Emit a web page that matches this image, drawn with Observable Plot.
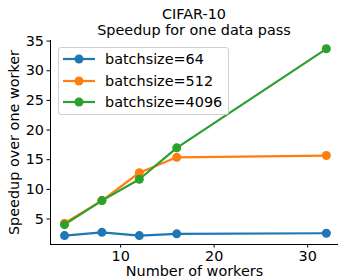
<!DOCTYPE html>
<html>
<head>
<meta charset="utf-8">
<script src="https://cdn.jsdelivr.net/npm/d3@7"></script>
<script src="https://cdn.jsdelivr.net/npm/@observablehq/plot@0.6"></script>
<style>
  body { margin: 0; background: #fff; font-family: "DejaVu Sans", sans-serif; }
  #wrap { position: relative; width: 338px; height: 280px; overflow: hidden; }
  #title { height: 38px; box-sizing: border-box; padding-top: 6px; padding-left: 50px;
           text-align: center; font-size: 14.4px; line-height: 16px; color: #000; }
  #legend { position: absolute; left: 58px; top: 47px; width: 171px; height: 68px;
            box-sizing: border-box; border: 1px solid #d0d0d0; border-radius: 3px;
            background: rgba(255,255,255,0.8); }
  .row { position: absolute; left: 0; height: 20px; font-size: 14.4px; line-height: 20px; color: #000; }
  .row svg { position: absolute; left: 3px; top: 0; }
  .row span { position: absolute; left: 46px; top: 0; white-space: nowrap; }
</style>
</head>
<body>
<div id="wrap">
  <div id="title">CIFAR-10<br>Speedup for one data pass</div>
  <div id="chart"></div>
  <div id="legend"></div>
</div>
<script>
const workers = [4, 8, 12, 16, 32];
const seriesNames = ["batchsize=64", "batchsize=512", "batchsize=4096"];
const speedup64 = [2.2, 2.75, 2.2, 2.5, 2.6];
const speedup512 = [4.3, 8.1, 12.8, 15.4, 15.7];
const speedup4096 = [4.05, 8.1, 11.7, 17.0, 33.7];
const colors = ["#1f77b4", "#ff7f0e", "#2ca02c"];
const xTicks = [10, 20, 30];
const yTicks = [5, 10, 15, 20, 25, 30, 35];
const xDomain = [2.5, 33.3];
const yDomain = [0.7, 35.1];

const allSeries = [speedup64, speedup512, speedup4096];
const data = [];
allSeries.forEach((vals, si) => {
  vals.forEach((v, i) => data.push({series: seriesNames[si], x: workers[i], y: v}));
});

const font = "DejaVu Sans";
const fs = 14.4;
const chart = Plot.plot({
  width: 338,
  height: 242,
  marginLeft: 50,
  marginRight: 0,
  marginTop: 2,
  marginBottom: 36,
  style: {fontFamily: font, fontSize: fs + "px", color: "#000", background: "#fff", overflow: "visible"},
  x: {domain: xDomain, ticks: xTicks, label: null},
  y: {domain: yDomain, ticks: yTicks, label: null},
  color: {domain: seriesNames, range: colors},
  marks: [
    Plot.axisX({ticks: xTicks, tickSize: 3.5, tickPadding: 3, label: null, fontSize: fs, stroke: "#000"}),
    Plot.axisY({ticks: yTicks, tickSize: 3.5, tickPadding: 3, label: null, fontSize: fs, stroke: "#000"}),
    Plot.ruleX([xDomain[0]], {stroke: "#000", strokeWidth: 1}),
    Plot.ruleY([yDomain[0]], {stroke: "#000", strokeWidth: 1}),
    Plot.line(data, {x: "x", y: "y", z: "series", stroke: "series", strokeWidth: 2.2}),
    Plot.dot(data, {x: "x", y: "y", fill: "series", r: 4.5, stroke: null}),
    Plot.text(["Number of workers"], {frameAnchor: "bottom", lineAnchor: "middle", textAnchor: "middle", dy: 27, text: d => d, fontSize: fs, fill: "#000"}),
    Plot.text(["Speedup over one worker"], {frameAnchor: "left", lineAnchor: "middle", textAnchor: "middle", dx: -36, rotate: -90, text: d => d, fontSize: fs, fill: "#000"})
  ]
});
document.getElementById("chart").appendChild(chart);

const legend = document.getElementById("legend");
seriesNames.forEach((name, i) => {
  const row = document.createElement("div");
  row.className = "row";
  row.style.top = (1 + i * 21.5) + "px";
  row.innerHTML = `<svg width="34" height="20"><line x1="1" y1="10" x2="33" y2="10" stroke="${colors[i]}" stroke-width="2.2"/><circle cx="17" cy="10" r="4.5" fill="${colors[i]}"/></svg><span>${name}</span>`;
  legend.appendChild(row);
});
</script>
</body>
</html>
